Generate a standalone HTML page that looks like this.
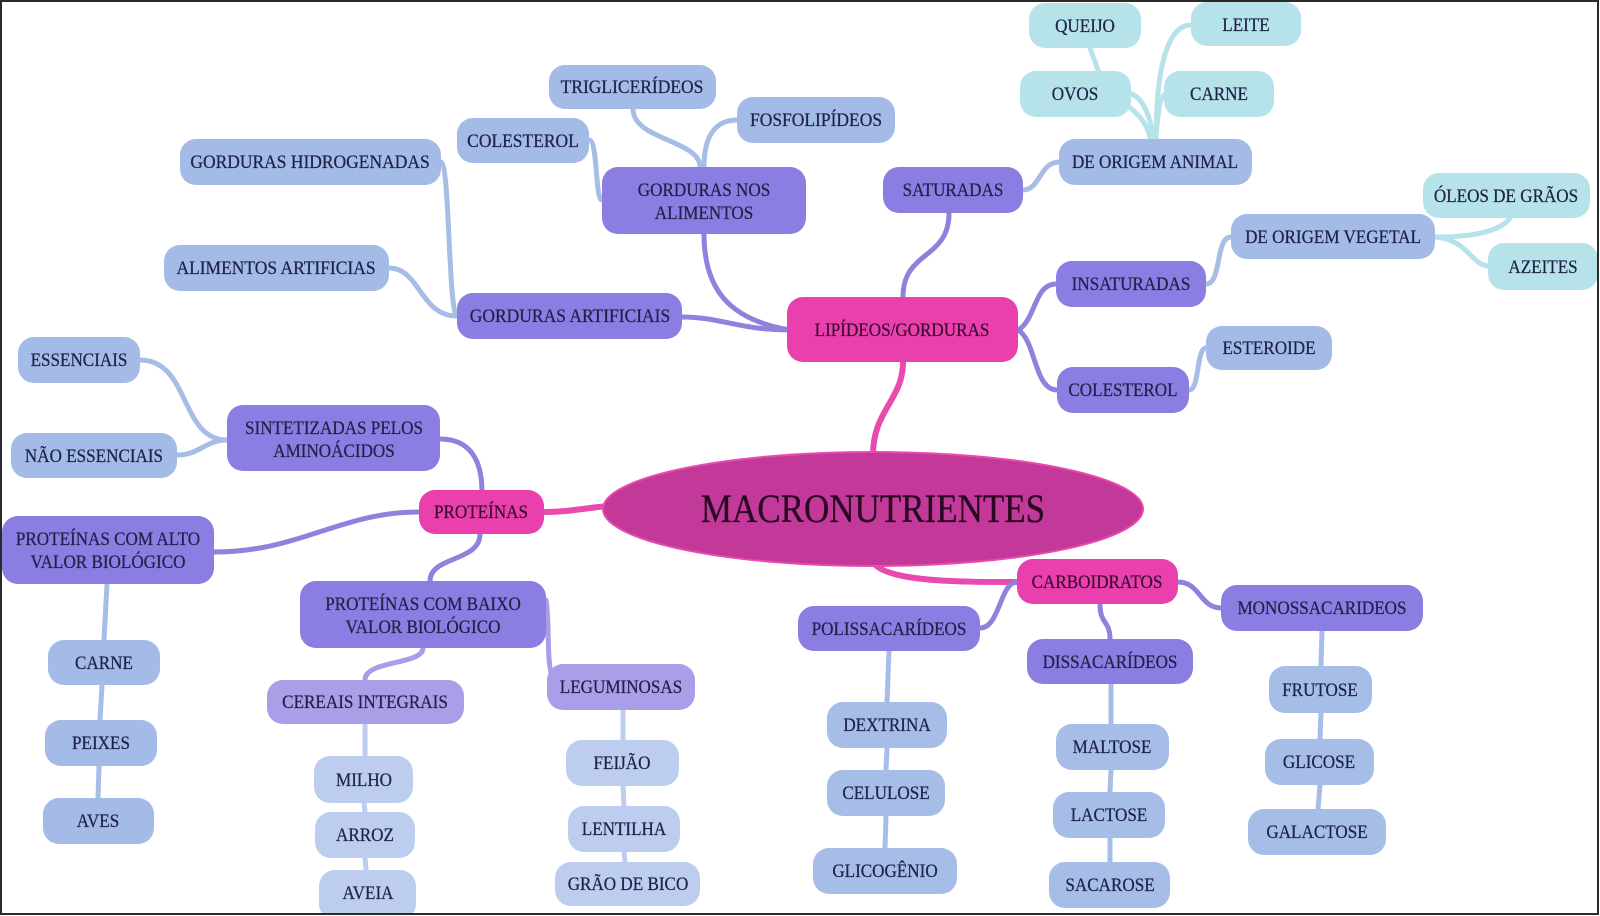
<!DOCTYPE html>
<html><head><meta charset="utf-8"><style>
html,body{margin:0;padding:0;background:#fff;}
svg{display:block;}
text{font-family:"Liberation Serif",serif;font-size:19px;fill:#1e2248;stroke:#1e2248;stroke-width:0.25px;}
</style></head><body>
<svg width="1600" height="916" viewBox="0 0 1600 916" xmlns="http://www.w3.org/2000/svg">
<defs><clipPath id="c"><rect x="0" y="0" width="1600" height="914"/></clipPath></defs>
<rect width="1600" height="916" fill="#fff"/>
<g clip-path="url(#c)">
<g fill="none" stroke-linecap="round">
<!-- pink -->
<g stroke="#e84aae" stroke-width="6">
<path d="M873,455 C873,410 903,400 903,362"/>
<path d="M544,512 C570,512 585,508 608,506"/>
<path d="M873,562 C885,582 960,582 1017,582"/>
</g>
<!-- purple -->
<g stroke="#8f82dd" stroke-width="5">
<path d="M903,297 C903,250 949,260 949,213"/>
<path d="M790,330 C730,320 704,290 704,234"/>
<path d="M790,330 C740,330 720,317 682,317"/>
<path d="M1018,330 C1036,320 1034,284 1056,284"/>
<path d="M1018,330 C1036,340 1034,390 1057,390"/>
<path d="M482,492 C482,460 470,439 440,439"/>
<path d="M419,512 C340,512 300,552 214,552"/>
<path d="M480,534 C480,562 430,556 430,581"/>
<path d="M1017,582 C1000,582 1000,628 980,628"/>
<path d="M1100,604 C1100,625 1110,620 1110,639"/>
<path d="M1178,582 C1200,582 1200,608 1221,608"/>
</g>
<g stroke="#a99ce8" stroke-width="5">
<path d="M423,648 C423,665 365,660 365,680"/>
<path d="M546,600 C550,625 546,665 553,678"/>
</g>
<!-- blue -->
<g stroke="#a6bde6" stroke-width="5">
<path d="M1023,190 C1040,190 1040,162 1059,162"/>
<path d="M1206,284 C1222,284 1215,237 1231,237"/>
<path d="M1189,390 C1200,390 1196,348 1206,348"/>
<path d="M700,167 C700,140 633,140 633,109"/>
<path d="M704,167 C704,130 720,120 737,120"/>
<path d="M589,140 C598,140 595,200 602,200"/>
<path d="M441,162 C450,165 448,310 457,316"/>
<path d="M389,268 C420,268 420,316 457,316"/>
<path d="M140,360 C190,360 180,440 227,440"/>
<path d="M177,455 C200,455 205,440 227,440"/>
<path d="M107,584 L104,640"/>
<path d="M102,685 L100,720"/>
<path d="M99,766 L98,798"/>
<path d="M889,651 L887,702"/>
<path d="M887,748 L886,770"/>
<path d="M886,816 L885,848"/>
<path d="M1111,684 L1111,724"/>
<path d="M1111,770 L1110,792"/>
<path d="M1110,838 L1110,862"/>
<path d="M1322,631 L1321,666"/>
<path d="M1321,713 L1320,739"/>
<path d="M1320,785 L1318,809"/>
</g>
<g stroke="#bdcdf0" stroke-width="5">
<path d="M365,724 L365,756"/>
<path d="M364,803 L365,812"/>
<path d="M365,858 L366,870"/>
<path d="M623,710 L623,740"/>
<path d="M623,786 L624,806"/>
<path d="M624,852 L625,862"/>
</g>
<!-- cyan -->
<g stroke="#b6e3ea" stroke-width="5">
<path d="M1156,139 C1156,60 1170,25 1191,25"/>
<path d="M1153,139 C1150,110 1140,95 1128,93"/>
<path d="M1150,139 C1146,108 1110,102 1098,70 L1090,48"/>
<path d="M1156,139 C1158,110 1160,95 1166,94"/>
<path d="M1435,237 C1470,237 1500,232 1510,218"/>
<path d="M1435,237 C1470,240 1470,266 1490,266"/>
</g>
</g>

<!-- ellipse -->
<ellipse cx="873" cy="509" rx="270" ry="57" fill="#c2399a" stroke="#e84aae" stroke-width="2"/>
<text transform="translate(873,522) scale(0.875 1)" text-anchor="middle" style="font-size:40px;fill:#2a0822;stroke:#2a0822;stroke-width:0.3px">MACRONUTRIENTES</text>

<!-- nodes -->
<g>
<!-- cyan -->
<rect x="1029" y="3" width="112" height="45" rx="16" fill="#b6e3ea"/>
<rect x="1191" y="2" width="110" height="44" rx="16" fill="#b6e3ea"/>
<rect x="1020" y="71" width="111" height="46" rx="16" fill="#b6e3ea"/>
<rect x="1164" y="71" width="110" height="46" rx="16" fill="#b6e3ea"/>
<rect x="1423" y="173" width="167" height="45" rx="16" fill="#b6e3ea"/>
<rect x="1488" y="243" width="110" height="47" rx="16" fill="#b6e3ea"/>
<!-- blue -->
<rect x="1059" y="139" width="193" height="46" rx="16" fill="#a3bbe6"/>
<rect x="549" y="65" width="167" height="44" rx="16" fill="#a3bbe6"/>
<rect x="737" y="97" width="158" height="46" rx="16" fill="#a3bbe6"/>
<rect x="457" y="118" width="132" height="45" rx="16" fill="#a3bbe6"/>
<rect x="180" y="139" width="261" height="46" rx="16" fill="#a3bbe6"/>
<rect x="1231" y="214" width="204" height="45" rx="16" fill="#a3bbe6"/>
<rect x="164" y="245" width="225" height="46" rx="16" fill="#a3bbe6"/>
<rect x="1206" y="326" width="126" height="44" rx="16" fill="#a3bbe6"/>
<rect x="18" y="337" width="122" height="46" rx="16" fill="#a3bbe6"/>
<rect x="11" y="433" width="166" height="45" rx="16" fill="#a3bbe6"/>
<rect x="48" y="640" width="112" height="45" rx="16" fill="#a3bbe6"/>
<rect x="45" y="720" width="112" height="46" rx="16" fill="#a3bbe6"/>
<rect x="43" y="798" width="111" height="46" rx="16" fill="#a3bbe6"/>
<rect x="1269" y="666" width="103" height="47" rx="16" fill="#a6bde8"/>
<rect x="827" y="702" width="120" height="46" rx="16" fill="#a6bde8"/>
<rect x="1056" y="724" width="113" height="46" rx="16" fill="#a6bde8"/>
<rect x="1265" y="739" width="109" height="46" rx="16" fill="#a6bde8"/>
<rect x="827" y="770" width="118" height="46" rx="16" fill="#a6bde8"/>
<rect x="1053" y="792" width="112" height="46" rx="16" fill="#a6bde8"/>
<rect x="1248" y="809" width="138" height="46" rx="16" fill="#a6bde8"/>
<rect x="813" y="848" width="144" height="46" rx="16" fill="#a6bde8"/>
<rect x="1049" y="862" width="121" height="46" rx="16" fill="#a6bde8"/>
<!-- light blue -->
<rect x="566" y="740" width="113" height="46" rx="16" fill="#bdcdf0"/>
<rect x="314" y="756" width="99" height="47" rx="16" fill="#bdcdf0"/>
<rect x="568" y="806" width="112" height="46" rx="16" fill="#bdcdf0"/>
<rect x="315" y="812" width="100" height="46" rx="16" fill="#bdcdf0"/>
<rect x="555" y="862" width="145" height="44" rx="16" fill="#bdcdf0"/>
<rect x="319" y="870" width="97" height="50" rx="16" fill="#bdcdf0"/>
<!-- purple -->
<rect x="602" y="167" width="204" height="67" rx="16" fill="#8b7ee2"/>
<rect x="883" y="167" width="140" height="46" rx="16" fill="#8b7ee2"/>
<rect x="457" y="293" width="225" height="46" rx="16" fill="#8b7ee2"/>
<rect x="1056" y="261" width="150" height="46" rx="16" fill="#8b7ee2"/>
<rect x="1057" y="367" width="132" height="46" rx="16" fill="#8b7ee2"/>
<rect x="227" y="405" width="213" height="66" rx="16" fill="#8b7ee2"/>
<rect x="2" y="516" width="212" height="68" rx="16" fill="#8b7ee2"/>
<rect x="1221" y="585" width="202" height="46" rx="16" fill="#8b7ee2"/>
<rect x="300" y="581" width="246" height="67" rx="16" fill="#8b7ee2"/>
<rect x="798" y="606" width="182" height="45" rx="16" fill="#8b7ee2"/>
<rect x="1027" y="639" width="166" height="45" rx="16" fill="#8b7ee2"/>
<!-- light purple -->
<rect x="547" y="664" width="148" height="46" rx="16" fill="#ab9ee9"/>
<rect x="267" y="680" width="197" height="44" rx="16" fill="#ab9ee9"/>
<!-- pink -->
<rect x="787" y="297" width="231" height="65" rx="16" fill="#ea40ae"/>
<rect x="419" y="490" width="125" height="44" rx="16" fill="#ea40ae"/>
<rect x="1017" y="559" width="161" height="45" rx="16" fill="#ea40ae"/>
</g>

<!-- labels -->
<g text-anchor="middle">
<text transform="translate(1085,32) scale(0.9 1)">QUEIJO</text>
<text transform="translate(1246,31) scale(0.9 1)">LEITE</text>
<text transform="translate(1075,100) scale(0.9 1)">OVOS</text>
<text transform="translate(1219,100) scale(0.9 1)">CARNE</text>
<text transform="translate(1506,202) scale(0.9 1)">ÓLEOS DE GRÃOS</text>
<text transform="translate(1543,273) scale(0.9 1)">AZEITES</text>
<text transform="translate(1155,168) scale(0.9 1)">DE ORIGEM ANIMAL</text>
<text transform="translate(632,93) scale(0.92 1)">TRIGLICERÍDEOS</text>
<text transform="translate(816,126) scale(0.92 1)">FOSFOLIPÍDEOS</text>
<text transform="translate(523,147) scale(0.92 1)">COLESTEROL</text>
<text transform="translate(310,168) scale(0.92 1)">GORDURAS HIDROGENADAS</text>
<text transform="translate(1333,243) scale(0.9 1)">DE ORIGEM VEGETAL</text>
<text transform="translate(276,274) scale(0.92 1)">ALIMENTOS ARTIFICIAS</text>
<text transform="translate(1269,354) scale(0.9 1)">ESTEROIDE</text>
<text transform="translate(79,366) scale(0.9 1)">ESSENCIAIS</text>
<text transform="translate(94,462) scale(0.9 1)">NÃO ESSENCIAIS</text>
<text transform="translate(104,669) scale(0.9 1)">CARNE</text>
<text transform="translate(101,749) scale(0.9 1)">PEIXES</text>
<text transform="translate(98,827) scale(0.9 1)">AVES</text>
<text transform="translate(1320,696) scale(0.9 1)">FRUTOSE</text>
<text transform="translate(887,731) scale(0.9 1)">DEXTRINA</text>
<text transform="translate(1112,753) scale(0.9 1)">MALTOSE</text>
<text transform="translate(1319,768) scale(0.9 1)">GLICOSE</text>
<text transform="translate(886,799) scale(0.9 1)">CELULOSE</text>
<text transform="translate(1109,821) scale(0.9 1)">LACTOSE</text>
<text transform="translate(1317,838) scale(0.9 1)">GALACTOSE</text>
<text transform="translate(885,877) scale(0.9 1)">GLICOGÊNIO</text>
<text transform="translate(1110,891) scale(0.9 1)">SACAROSE</text>
<text transform="translate(622,769) scale(0.9 1)">FEIJÃO</text>
<text transform="translate(364,786) scale(0.9 1)">MILHO</text>
<text transform="translate(624,835) scale(0.9 1)">LENTILHA</text>
<text transform="translate(365,841) scale(0.9 1)">ARROZ</text>
<text transform="translate(628,890) scale(0.9 1)">GRÃO DE BICO</text>
<text transform="translate(368,899) scale(0.9 1)">AVEIA</text>
<text transform="translate(704,196) scale(0.9 1)">GORDURAS NOS</text>
<text transform="translate(704,219) scale(0.9 1)">ALIMENTOS</text>
<text transform="translate(953,196) scale(0.9 1)">SATURADAS</text>
<text transform="translate(570,322) scale(0.92 1)">GORDURAS ARTIFICIAIS</text>
<text transform="translate(1131,290) scale(0.9 1)">INSATURADAS</text>
<text transform="translate(1123,396) scale(0.9 1)">COLESTEROL</text>
<text transform="translate(334,434) scale(0.9 1)">SINTETIZADAS PELOS</text>
<text transform="translate(334,457) scale(0.9 1)">AMINOÁCIDOS</text>
<text transform="translate(108,545) scale(0.9 1)">PROTEÍNAS COM ALTO</text>
<text transform="translate(108,568) scale(0.9 1)">VALOR BIOLÓGICO</text>
<text transform="translate(1322,614) scale(0.9 1)">MONOSSACARIDEOS</text>
<text transform="translate(423,610) scale(0.9 1)">PROTEÍNAS COM BAIXO</text>
<text transform="translate(423,633) scale(0.9 1)">VALOR BIOLÓGICO</text>
<text transform="translate(889,635) scale(0.9 1)">POLISSACARÍDEOS</text>
<text transform="translate(1110,668) scale(0.9 1)">DISSACARÍDEOS</text>
<text transform="translate(621,693) scale(0.9 1)">LEGUMINOSAS</text>
<text transform="translate(365,708) scale(0.9 1)">CEREAIS INTEGRAIS</text>
<text transform="translate(902,336) scale(0.9 1)" style="fill:#3f0a33;stroke:#3f0a33">LIPÍDEOS/GORDURAS</text>
<text transform="translate(481,518) scale(0.9 1)" style="fill:#3f0a33;stroke:#3f0a33">PROTEÍNAS</text>
<text transform="translate(1097,588) scale(0.9 1)" style="fill:#3f0a33;stroke:#3f0a33">CARBOIDRATOS</text>
</g>
</g>
<rect x="1" y="1" width="1597" height="913" fill="none" stroke="#2a2a2a" stroke-width="2"/>
</svg>
</body></html>
